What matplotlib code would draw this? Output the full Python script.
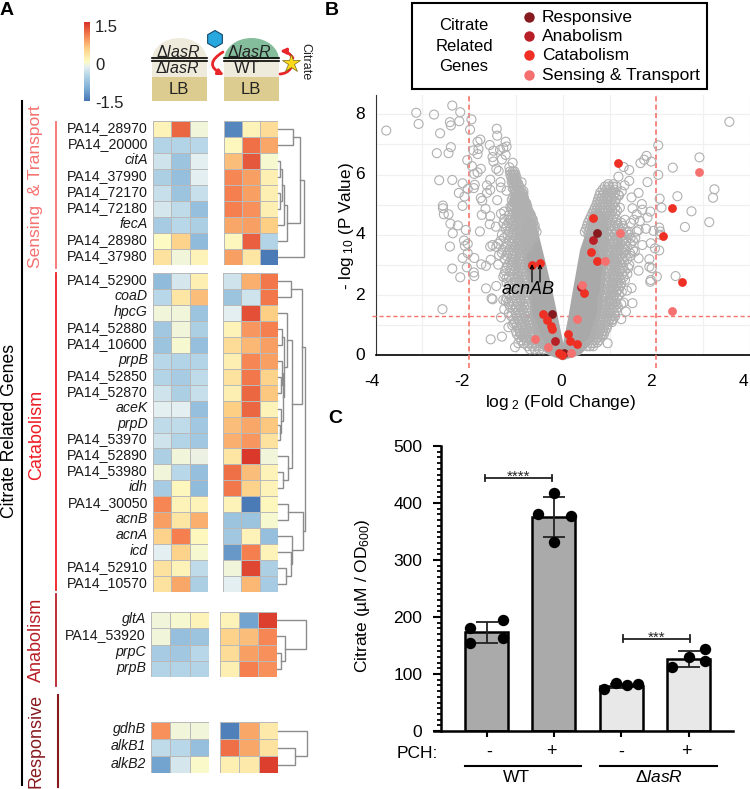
import numpy as np
import matplotlib
matplotlib.use('Agg')
import matplotlib.pyplot as plt
from matplotlib.colors import LinearSegmentedColormap
from matplotlib.patches import Rectangle, Ellipse, RegularPolygon, FancyArrowPatch, Polygon
from matplotlib.cm import ScalarMappable
from matplotlib.colors import Normalize
from matplotlib.ticker import MultipleLocator

plt.rcParams['font.family'] = ['Liberation Sans', 'DejaVu Sans']
plt.rcParams['mathtext.fontset'] = 'custom'
plt.rcParams['mathtext.rm'] = 'Liberation Sans'
plt.rcParams['mathtext.it'] = 'Liberation Sans:italic'
plt.rcParams['mathtext.default'] = 'regular'

W, H = 750, 789

# ---- heatmap data: rows of (dlasR x3, WT x3)
sensing_genes = ['PA14_28970', 'PA14_20000', 'citA', 'PA14_37990', 'PA14_72170', 'PA14_72180', 'fecA', 'PA14_28980', 'PA14_37980']
sensing_vals = [
    [0.1, 1.15, -0.1, -1.35, 0.1, 0.35],
    [-0.55, -0.55, -0.5, 0.05, 1.1, 0.75],
    [-0.35, -0.75, -0.2, 0.6, 1.25, -0.05],
    [-0.6, -0.8, -0.2, 0.95, 0.8, 0.15],
    [-0.4, -0.75, -0.4, 1.0, 0.8, 0.15],
    [-0.3, -0.45, -0.8, 1.0, 0.9, 0.15],
    [-0.65, -0.5, -0.6, 0.75, 0.8, 0.5],
    [0.0, 0.45, -0.85, 0.05, 1.2, -0.55],
    [0.3, -0.1, 0.1, 0.8, 0.25, -1.45],
]
catabolism_genes = ['PA14_52900', 'coaD', 'hpcG', 'PA14_52880', 'PA14_10600', 'prpB', 'PA14_52850', 'PA14_52870', 'aceK', 'prpD',
                    'PA14_53970', 'PA14_52890', 'PA14_53980', 'idh', 'PA14_30050', 'acnB', 'acnA', 'icd', 'PA14_52910', 'PA14_10570']
catabolism_vals = [
    [-0.85, -0.3, 0.15, -0.35, 0.7, 1.05],
    [-0.5, 0.25, 0.6, -0.75, -0.35, 1.05],
    [-0.1, -0.1, -0.75, -0.2, 1.3, 0.5],
    [-0.7, -0.1, -0.6, 0.1, 0.85, 1.0],
    [-0.75, -0.05, -0.8, 0.35, 0.65, 0.8],
    [-0.5, -0.55, -0.55, 0.15, 0.95, 0.8],
    [-0.55, -0.65, -0.45, 0.3, 1.05, 0.45],
    [-0.35, -0.6, -0.4, 0.15, 1.15, 0.55],
    [-0.2, -0.2, -0.8, 0.5, 1.15, 0.1],
    [-0.45, -0.45, -0.7, 0.6, 0.75, 0.55],
    [-0.35, -0.55, -0.7, 0.7, 0.85, 0.3],
    [-0.6, -0.1, -0.15, 0.25, 1.45, -0.1],
    [-0.1, -0.5, -0.8, 1.1, 0.6, 0.1],
    [-0.65, 0.05, -0.85, 1.05, 0.45, 0.1],
    [0.95, 0.1, 0.1, 0.1, -1.45, 0.05],
    [0.8, 0.25, 0.7, -0.75, -0.75, -0.05],
    [0.45, 1.0, 0.05, -0.7, 0.1, -0.8],
    [-0.2, 0.45, -0.05, -1.2, 1.0, 0.1],
    [0.3, 0.1, -0.45, -0.1, 1.35, -0.6],
    [0.3, 0.75, -0.6, -0.2, 0.65, -0.65],
]
anabolism_genes = ['gltA', 'PA14_53920', 'prpC', 'prpB']
anabolism_vals = [
    [-0.1, -0.05, 0.1, 0.1, -1.1, 1.4],
    [-0.1, -0.8, -0.75, 0.45, 0.6, 0.95],
    [-0.65, -0.7, -0.5, 0.35, 0.8, 0.9],
    [-0.55, -0.55, -0.55, 0.15, 1.0, 0.9],
]
responsive_genes = ['gdhB', 'alkB1', 'alkB2']
responsive_vals = [
    [0.9, -0.1, -0.1, -1.4, 0.75, 0.2],
    [-0.45, -0.5, -0.8, 1.1, 0.75, 0.3],
    [-1.1, -0.3, -0.03, 0.15, 0.2, 1.4],
]

# dendrograms: (height, child, child), leaves are row numbers
sensing_tree = (26, (22, (15, 0, 1), (9, (5.5, (4, (2, 2, 3), (1.5, 4, 5)), 6), 7)), 8)
catabolism_tree = (27, (24, (13, 0, 1), (14, (9, 2, (6, (4, 3, 4), (5, (3.5, 5, (2.5, 6, 7)), (3, 8, (1.5, 9, 10))))), (10, 11, (5, 12, 13)))),
                   (25, (10, 14, 15), (14, 16, (13, 17, (7.5, 18, 19)))))
anabolism_tree = (29, 0, (8, 1, (4, 2, 3)))
responsive_tree = (29, 0, (17, 1, 2))

# ---- volcano data, log2 fold change / -log10 p
sparse_left = [(-3.77, 7.46), (-3.13, 8.05), (-3.08, 7.68), (-2.75, 7.99), (-2.36, 8.29), (-2.19, 8.07), (-2.41, 7.74), (-2.39, 7.63),
               (-2.21, 7.77), (-1.95, 7.83), (-1.98, 7.49), (-2.62, 7.37), (-2.39, 6.91), (-2.69, 6.71), (-2.44, 6.71), (-2.04, 6.48),
               (-1.41, 7.52), (-1.40, 7.29), (-1.22, 7.09), (-1.20, 6.93), (-1.76, 7.16), (-1.82, 7.09), (-1.56, 6.98), (-1.80, 6.85),
               (-1.91, 6.80), (-1.82, 6.68), (-1.48, 6.79), (-1.34, 6.82), (-1.27, 6.88), (-1.22, 6.65), (-1.50, 6.58), (-1.30, 6.50),
               (-1.48, 6.43), (-1.94, 6.28), (-1.75, 6.19), (-1.82, 6.07), (-1.89, 6.02), (-1.07, 6.39), (-1.42, 6.19), (-1.37, 6.12),
               (-1.14, 6.24), (-2.64, 5.81), (-2.36, 5.82), (-2.14, 5.71), (-1.55, 5.83), (-1.88, 5.66), (-1.90, 5.55), (-2.03, 5.52),
               (-2.22, 5.39), (-2.10, 5.27), (-1.62, 5.64), (-1.55, 5.49), (-1.62, 5.39), (-1.33, 5.75), (-1.32, 5.57), (-1.20, 5.46),
               (-0.88, 5.74), (-1.03, 5.49), (-0.84, 5.35), (-1.75, 5.22), (-1.72, 5.13), (-1.40, 5.15), (-2.14, 4.96), (-2.56, 4.97),
               (-2.56, 4.88), (-2.54, 4.68), (-2.44, 4.68), (-2.40, 4.37), (-2.24, 4.31), (-2.35, 4.05), (-2.07, 4.16), (-1.77, 4.11),
               (-1.65, 4.86), (-1.73, 4.66), (-1.55, 4.62), (-1.56, 4.35), (-1.43, 4.27), (-1.25, 4.77), (-1.32, 4.70), (-1.12, 4.92),
               (-1.25, 4.53), (-1.27, 4.38), (-1.12, 4.49), (-1.09, 5.16), (-2.41, 3.61), (-2.11, 3.81), (-2.09, 3.63), (-2.03, 3.70),
               (-2.14, 3.23), (-2.03, 3.39), (-1.89, 3.23), (-2.36, 2.88), (-2.05, 2.92), (-1.90, 2.75), (-1.89, 2.63), (-2.19, 2.59),
               (-1.74, 3.02), (-1.64, 2.97), (-1.54, 3.17), (-1.38, 3.01), (-1.55, 3.61), (-1.50, 3.66), (-1.36, 3.33), (-1.64, 2.22),
               (-1.42, 2.30), (-1.52, 1.89), (-1.50, 1.86), (-1.27, 1.84), (-1.16, 1.78), (-2.57, 1.53), (-1.25, 1.53), (-1.32, 1.26),
               (-1.54, 0.53), (-1.30, 0.62), (-1.02, 0.27), (-0.83, 0.40), (-1.16, 0.93), (-1.05, 1.06), (-0.91, 0.73), (-1.27, 2.61),
               (-1.20, 2.56), (-1.25, 2.69)]
left_band_rows = {
    6.1: [-1.13, -1.07, -1.03], 6.0: [-1.12, -1.08, -1.04, -1.01], 5.9: [-1.10, -1.06, -1.03, -0.99], 5.8: [-1.07, -1.03, -1.0],
    5.75: [-1.09, -0.98], 5.7: [-1.05, -1.0, -0.95], 5.6: [-1.04, -0.99, -0.94], 5.55: [-1.07, -0.96, -0.9], 5.45: [-1.03, -0.93, -0.84],
    5.4: [-1.0, -0.96, -0.91, -0.87], 5.3: [-1.01, -0.95, -0.91, -0.86], 5.25: [-1.06, -0.99, -0.89, -0.84],
    5.2: [-1.02, -0.97, -0.92, -0.88, -0.83], 5.15: [-1.0, -0.95, -0.9, -0.82], 5.1: [-1.05, -0.99, -0.94, -0.89, -0.85, -0.81],
    5.05: [-1.03, -0.93, -0.89, -0.84, -0.78], 5.0: [-1.08, -1.0, -0.96, -0.92, -0.87, -0.83, -0.79],
    4.95: [-1.06, -0.95, -0.9, -0.82, -0.76], 4.9: [-1.03, -0.98, -0.93, -0.89, -0.85, -0.8, -0.77],
    4.85: [-1.1, -0.97, -0.91, -0.87, -0.8, -0.75], 4.8: [-1.0, -0.95, -0.91, -0.86, -0.82, -0.78, -0.74],
    4.75: [-0.99, -0.93, -0.88, -0.83, -0.77, -0.72], 4.7: [-1.05, -0.98, -0.92, -0.86, -0.8, -0.75, -0.7],
    4.65: [-1.15, -1.01, -0.94, -0.89, -0.83, -0.78, -0.72, -0.68], 4.55: [-1.0, -0.92, -0.87, -0.81, -0.76, -0.7, -0.66],
    4.5: [-1.12, -1.02, -0.95, -0.9, -0.84, -0.78, -0.73, -0.68, -0.64], 4.4: [-1.16, -1.04, -0.97, -0.91, -0.85, -0.79, -0.74, -0.69, -0.63],
    4.3: [-1.2, -1.08, -0.99, -0.93, -0.87, -0.81, -0.76, -0.7, -0.65, -0.6], 4.2: [-1.22, -1.11, -1.01, -0.95, -0.88, -0.82, -0.77, -0.71, -0.66, -0.6],
    4.1: [-1.15, -1.05, -0.97, -0.9, -0.84, -0.78, -0.72, -0.67, -0.62, -0.56], 4.0: [-1.3, -1.18, -1.06, -0.98, -0.92, -0.85, -0.79, -0.73, -0.68, -0.62],
    3.9: [-1.25, -1.1, -1.0, -0.93, -0.87, -0.8, -0.75, -0.69, -0.63], 3.8: [-1.33, -1.14, -1.03, -0.95, -0.89, -0.83, -0.77, -0.71],
    3.7: [-1.38, -1.2, -1.08, -0.98, -0.92, -0.86, -0.8, -0.75], 3.6: [-1.42, -1.22, -1.1, -1.0, -0.94, -0.88, -0.82, -0.76],
    3.5: [-1.28, -1.14, -1.04, -0.96, -0.9, -0.84], 3.4: [-1.3, -1.17, -1.05, -0.98, -0.91, -0.86],
    3.3: [-1.2, -1.08, -1.0, -0.93, -0.87], 3.2: [-1.24, -1.1, -1.01, -0.95, -0.89], 3.1: [-1.13, -1.04, -0.97, -0.9, -0.86],
    3.0: [-1.17, -1.07, -0.99, -0.92, -0.86], 2.9: [-1.2, -1.1, -1.0, -0.93, -0.87], 2.8: [-1.23, -1.12, -1.02, -0.95, -0.89],
    2.7: [-1.05, -0.97, -0.9, -0.84], 2.6: [-1.15, -1.03, -0.95, -0.88, -0.8], 2.5: [-1.1, -1.0, -0.93, -0.85, -0.78],
    2.4: [-1.2, -1.07, -0.98, -0.91, -0.83, -0.77], 2.3: [-1.15, -1.03, -0.95, -0.87, -0.8], 2.2: [-1.1, -1.0, -0.92, -0.85, -0.78],
    2.1: [-1.08, -0.98, -0.9, -0.83, -0.76], 2.0: [-1.14, -1.04, -0.95, -0.87, -0.79], 1.9: [-1.2, -1.1, -1.0, -0.9, -0.82, -0.76],
    1.8: [-1.22, -1.08, -0.98, -0.88, -0.8], 1.7: [-1.15, -1.05, -0.95, -0.85, -0.78], 1.6: [-1.12, -1.0, -0.9, -0.82, -0.75],
    1.5: [-1.03, -0.93, -0.85, -0.77], 1.4: [-1.15, -1.0, -0.91, -0.83, -0.76], 1.3: [-1.1, -0.98, -0.88, -0.8, -0.74],
    1.2: [-1.05, -0.95, -0.86, -0.78, -0.72], 1.1: [-1.02, -0.92, -0.83, -0.75, -0.68], 1.0: [-1.08, -0.98, -0.88, -0.8, -0.72, -0.66],
    0.9: [-0.95, -0.86, -0.78, -0.7, -0.63], 0.8: [-1.0, -0.92, -0.83, -0.75, -0.67, -0.61], 0.7: [-0.98, -0.88, -0.8, -0.72, -0.65, -0.58],
    0.6: [-0.93, -0.84, -0.76, -0.68, -0.6], 0.5: [-0.88, -0.78, -0.7, -0.62, -0.55], 0.4: [-0.95, -0.83, -0.73, -0.65, -0.57, -0.5],
    0.3: [-0.75, -0.65, -0.55, -0.48], 0.2: [-0.7, -0.6, -0.5, -0.42],
}
sparse_right = [(3.56, 7.75), (2.04, 6.97), (2.92, 6.57), (1.79, 6.62), (1.74, 6.49), (1.66, 6.38), (1.89, 6.43), (1.30, 6.25),
                (1.42, 6.15), (2.35, 6.23), (2.04, 5.99), (1.19, 5.93), (1.42, 5.79), (1.81, 5.75), (0.97, 5.68), (1.08, 5.68),
                (1.32, 5.64), (3.24, 5.51), (3.21, 5.23), (2.45, 5.28), (2.07, 5.20), (1.62, 5.39), (2.11, 4.90), (2.75, 4.78),
                (3.13, 4.42), (2.61, 4.26), (1.87, 4.77), (1.69, 5.02), (1.49, 4.88), (1.47, 5.24), (1.26, 5.44), (1.19, 5.33),
                (1.70, 4.83), (1.81, 4.57), (1.58, 4.68), (1.52, 4.5), (1.65, 4.46), (1.33, 4.5), (1.45, 4.39), (2.06, 4.24),
                (1.62, 4.16), (1.78, 4.2), (1.94, 4.13), (2.08, 4.11), (1.40, 4.11), (1.22, 4.9), (2.41, 2.63), (2.06, 3.48),
                (1.88, 3.72), (1.70, 3.66), (1.85, 3.19), (1.85, 2.94), (1.90, 2.89), (2.01, 2.61), (1.88, 2.50), (1.87, 2.44),
                (1.62, 2.81), (1.47, 2.23), (1.37, 2.15), (1.49, 1.73), (1.30, 1.75), (1.35, 1.45), (1.25, 1.2), (1.05, 1.17),
                (0.96, 0.4), (0.74, 0.43), (0.85, 0.67), (2.08, 4.0), (1.58, 4.11), (1.62, 3.22), (1.42, 3.0), (1.15, 2.15),
                (1.44, 3.39), (1.30, 3.83), (1.54, 3.44), (1.97, 3.55)]
right_band_rows = {
    5.6: [0.90, 0.98, 1.08, 1.15], 5.5: [0.85, 0.93, 1.02, 1.1], 5.4: [0.8, 0.88, 0.96, 1.05, 1.12], 5.3: [0.78, 0.85, 0.93, 1.01, 1.09, 1.2],
    5.2: [0.76, 0.83, 0.9, 0.97, 1.05, 1.14], 5.1: [0.74, 0.8, 0.87, 0.95, 1.02, 1.12], 5.0: [0.72, 0.78, 0.85, 0.92, 1.0, 1.08],
    4.9: [0.69, 0.75, 0.81, 0.88, 0.95, 1.03, 1.12], 4.8: [0.66, 0.72, 0.78, 0.84, 0.9, 0.97, 1.06, 1.16],
    4.7: [0.63, 0.69, 0.75, 0.81, 0.87, 0.94, 1.02, 1.12], 4.6: [0.6, 0.66, 0.72, 0.78, 0.84, 0.9, 0.98, 1.08],
    4.5: [0.57, 0.64, 0.7, 0.76, 0.82, 0.88, 0.96, 1.05, 1.15], 4.4: [0.54, 0.62, 0.68, 0.74, 0.8, 0.86, 0.94, 1.02, 1.14, 1.25],
    4.3: [0.52, 0.6, 0.66, 0.72, 0.78, 0.84, 0.92, 1.0, 1.08, 1.18, 1.28], 4.2: [0.5, 0.58, 0.64, 0.7, 0.76, 0.82, 0.9, 0.98, 1.1, 1.2, 1.3],
    4.1: [0.47, 0.55, 0.62, 0.68, 0.74, 0.8, 0.86, 0.95, 1.05, 1.15, 1.25, 1.36], 4.0: [0.55, 0.65, 0.78, 0.9, 1.0, 1.1, 1.2, 1.3, 1.42],
    3.9: [0.85, 0.95, 1.05, 1.14, 1.22, 1.32, 1.45, 1.55], 3.8: [0.8, 0.9, 1.0, 1.1, 1.18, 1.27, 1.35, 1.5],
    3.7: [0.83, 0.9, 0.98, 1.07, 1.16, 1.24, 1.33, 1.45], 3.6: [0.85, 0.95, 1.03, 1.12, 1.2, 1.28, 1.38],
    3.5: [0.88, 0.98, 1.07, 1.16, 1.25, 1.34, 1.5], 3.4: [0.9, 0.98, 1.05, 1.13, 1.2, 1.3], 3.3: [0.92, 1.0, 1.08, 1.15, 1.23, 1.34, 1.45],
    3.2: [0.95, 1.03, 1.1, 1.18, 1.26, 1.38], 3.1: [0.97, 1.05, 1.13, 1.21, 1.31], 3.0: [0.95, 1.02, 1.1, 1.17, 1.26],
    2.9: [0.97, 1.04, 1.12, 1.2, 1.29, 1.4], 2.8: [0.95, 1.0, 1.07, 1.14, 1.22, 1.32], 2.7: [0.94, 1.03, 1.1, 1.17, 1.27, 1.38],
    2.6: [0.93, 1.0, 1.06, 1.13, 1.2, 1.3], 2.5: [0.93, 1.02, 1.09, 1.16, 1.23, 1.33], 2.4: [0.92, 0.98, 1.05, 1.12, 1.18, 1.25],
    2.3: [0.91, 1.0, 1.07, 1.15, 1.23], 2.2: [0.9, 0.97, 1.03, 1.1, 1.2], 2.1: [0.9, 0.98, 1.06, 1.15, 1.26], 2.0: [0.88, 0.95, 1.02, 1.1, 1.2],
    1.9: [0.86, 0.94, 1.02, 1.08, 1.16], 1.8: [0.85, 0.92, 0.98, 1.05, 1.12], 1.7: [0.86, 0.94, 1.0, 1.07, 1.15, 1.25],
    1.6: [0.85, 0.9, 0.97, 1.03, 1.1, 1.18], 1.5: [0.84, 0.92, 1.0, 1.06, 1.14], 1.4: [0.83, 0.9, 0.95, 1.02, 1.1],
    1.3: [0.82, 0.89, 0.96, 1.04, 1.12], 1.2: [0.8, 0.87, 0.93, 1.0, 1.08], 1.1: [0.78, 0.84, 0.9, 0.97, 1.05], 1.0: [0.76, 0.82, 0.88, 0.95],
    0.9: [0.74, 0.8, 0.87, 0.94], 0.8: [0.72, 0.78, 0.85, 0.9], 0.7: [0.7, 0.76, 0.82, 0.88], 0.6: [0.68, 0.74, 0.8],
    0.5: [0.64, 0.7, 0.78], 0.4: [0.6, 0.66], 0.3: [0.52, 0.58, 0.65],
}
# the solid part of the V, too dense to tell circles apart
dense_left = [(-0.92, 4.0), (-0.8, 4.7), (-0.62, 4.5), (-0.52, 4.05), (-0.38, 3.17), (-0.24, 2.28), (-0.09, 1.17), (0.05, 0.12), (0.0, -0.17),
              (-0.31, 0.01), (-0.59, 0.4), (-0.70, 1.39), (-0.73, 2.39), (-0.84, 3.05)]
dense_right = [(0.51, 4.16), (0.37, 3.5), (0.23, 2.28), (0.12, 1.28), (0.01, 0.4), (0.0, -0.17), (0.37, 0.01), (0.69, 0.51), (0.83, 1.4),
               (0.90, 2.28), (0.94, 3.06), (0.98, 3.9), (0.95, 4.6), (0.75, 4.9), (0.6, 4.7)]
anabolism_pts = [(0.65, 3.82), (-0.17, 0.48), (0.38, 2.26)]
responsive_pts = [(0.74, 4.05), (-0.23, 1.36), (0.03, 0.09)]
catabolism_pts = [(1.17, 6.37), (2.34, 4.89), (0.65, 4.57), (2.15, 3.96), (0.61, 3.42), (0.73, 3.13), (0.45, 2.06), (2.54, 2.42),
                  (-0.65, 3.01), (-0.49, 3.07), (-0.42, 1.37), (-0.33, 1.16), (-0.26, 0.96), (-0.22, 0.86), (0.11, 0.71), (0.16, 0.49),
                  (0.30, 0.38), (-0.09, 0.07), (-0.01, 0.02)]
sensing_pts = [(2.91, 6.1), (1.22, 4.07), (0.91, 3.14), (0.41, 2.35), (2.34, 1.47), (0.30, 1.2), (-0.59, 0.55), (-0.31, 0.29), (0.17, 0.08)]

# ---- bar data
bar_pos = [1, 2, 3, 4]
bar_vals = [173, 376, 79, 126]
bar_errs = [18, 35, 4, 14]
bar_cols = ['#aaaaaa', '#aaaaaa', '#e8e8e8', '#e8e8e8']
dots_x = [[0.75, 0.76, 1.25, 1.25], [2.0, 1.76, 2.25, 2.0], [2.75, 2.92, 3.08, 3.25], [3.76, 4.0, 4.25, 4.25]]
dots_y = [[180, 155, 195, 163], [418, 381, 378, 332], [74, 85, 81, 82], [112, 129, 144, 122]]

COL_SENS = '#f4716f'
COL_CAT = '#ee2f24'
COL_ANA = '#b81f27'
COL_RESP = '#871a1e'
heat_cmap = LinearSegmentedColormap.from_list('rdylbu', [(0, '#4575b4'), (0.1667, '#7fb0d6'), (0.3333, '#b8d7e8'), (0.4333, '#e4eff0'),
                                                         (0.5, '#fdfbc4'), (0.6667, '#fdcf85'), (0.8333, '#f5804f'), (1, '#d73027')])

fig = plt.figure(figsize=(W / 100, H / 100), dpi=100)


def px_axes(left, top, right, bottom, **kw):
    return fig.add_axes([left / W, 1 - bottom / H, (right - left) / W, (bottom - top) / H], **kw)


def draw_tree(ax, node):
    if not isinstance(node, tuple):
        return node + 0.5, 0
    h, a, b = node
    ya, ha = draw_tree(ax, a)
    yb, hb = draw_tree(ax, b)
    ax.plot([ha, h, h, hb], [ya, ya, yb, yb], color='#8c8c8c', lw=1, clip_on=False, solid_joinstyle='miter')
    return (ya + yb) / 2, h


def heat_block(vals, genes, tree, top, bottom, l1, r1, l2, r2, label_x):
    arr = np.array(vals)
    for part, left, right in ((arr[:, :3], l1, r1), (arr[:, 3:], l2, r2)):
        ax = px_axes(left, top, right, bottom)
        ax.pcolormesh(part, cmap=heat_cmap, vmin=-1.5, vmax=1.5, edgecolors='#b9b9b9', linewidth=0.5)
        ax.set_ylim(len(genes), 0)
        ax.axis('off')
    d = px_axes(r2, top, r2 + 30, bottom)
    d.set_xlim(0, 30)
    d.set_ylim(len(genes), 0)
    d.axis('off')
    draw_tree(d, tree)
    rh = (bottom - top) / len(genes)
    for i, g in enumerate(genes):
        ov.text(label_x, top + (i + 0.5) * rh - 1, g, ha='right', va='center', fontsize=10.2, color='#1a1a1a',
                style='normal' if g.startswith('PA14') else 'italic')


# overlay in pixel coordinates for labels and the little colony drawing
ov = fig.add_axes([0, 0, 1, 1], zorder=5)
ov.set_xlim(0, W)
ov.set_ylim(H, 0)
ov.axis('off')
ov.patch.set_alpha(0)

heat_block(sensing_vals, sensing_genes, sensing_tree, 121, 265, 153, 208, 224, 278, 148)
heat_block(catabolism_vals, catabolism_genes, catabolism_tree, 273, 592, 153, 208, 223, 278, 148)
heat_block(anabolism_vals, anabolism_genes, anabolism_tree, 612, 677, 151, 209, 220, 277, 146)
heat_block(responsive_vals, responsive_genes, responsive_tree, 722, 773, 151, 209, 220, 278, 146)

# colour bar
cax = px_axes(84, 22, 90, 101)
cb = fig.colorbar(ScalarMappable(Normalize(-1.5, 1.5), heat_cmap), cax=cax)
cb.outline.set_visible(False)
cb.set_ticks([])
for y, s in ((27, '1.5'), (65, '0'), (103, '-1.5')):
    ov.text(95, y, s, fontsize=12, va='center', ha='left', color='#222222')

# category bars
ov.plot([21.5, 21.5], [101, 785], color='black', lw=1.5)
ov.plot([56, 56], [122, 268], color=COL_SENS, lw=1.3)
ov.plot([56, 56], [273, 590], color='#ee1c25', lw=1.3)
ov.plot([56, 56], [594, 686], color=COL_ANA, lw=1.3)
ov.plot([58, 58], [695, 787], color=COL_RESP, lw=1.5)
ov.text(10, 431, 'Citrate Related Genes', rotation=90, fontsize=12.7, ha='center', va='center', color='black')
ov.text(36, 187, 'Sensing  & Transport', rotation=90, fontsize=12.5, ha='center', va='center', color=COL_SENS)
ov.text(37, 435, 'Catabolism', rotation=90, fontsize=13, ha='center', va='center', color='#ee1c25')
ov.text(36, 640, 'Anabolism', rotation=90, fontsize=13, ha='center', va='center', color=COL_ANA)
ov.text(36, 741, 'Responsive', rotation=90, fontsize=13, ha='center', va='center', color=COL_RESP)

for s, x, y in (('A', 7, 10), ('B', 332, 10), ('C', 335, 418)):
    ov.text(x, y, s, fontsize=14, fontweight='bold', ha='center', va='center', color='black')

# colony sketch
BEIGE, SAND, GREEN = '#eeeadc', '#dccc8f', '#84bd9b'
for left, dome in ((152, BEIGE), (224, GREEN)):
    ov.add_patch(Ellipse((left + 27.5, 60), 55, 44, color=dome, lw=0))
    ov.add_patch(Rectangle((left, 59), 55, 19, color=BEIGE, lw=0))
    ov.add_patch(Rectangle((left, 77), 55, 24, color=SAND, lw=0))
    ov.plot([left, left + 55], [57.5, 57.5], color='black', lw=1.2)
    ov.plot([left, left + 55], [61, 61], color='black', lw=1.2)
    ov.text(left + 27, 89.5, 'LB', fontsize=12, ha='center', va='center', color='#222222')
ov.text(178, 52, r'$\Delta\mathit{lasR}$', fontsize=11.5, ha='center', va='center', color='#222222')
ov.text(177, 67.5, r'$\Delta\mathit{lasR}$', fontsize=11.5, ha='center', va='center', color='#222222')
ov.text(249, 52, r'$\Delta\mathit{lasR}$', fontsize=11.5, ha='center', va='center', color='#222222')
ov.text(247, 68, 'WT', fontsize=12, ha='center', va='center', color='#222222')
ov.add_patch(RegularPolygon((215, 39), 6, radius=8.5, facecolor='#29a7df', edgecolor='#14496b', lw=0.8))
ov.add_patch(FancyArrowPatch((223, 52), (224, 75), connectionstyle='arc3,rad=0.9', arrowstyle='-|>', mutation_scale=8, color='#e8262a', lw=2,
                             shrinkA=0, shrinkB=0))
ov.add_patch(FancyArrowPatch((293, 58), (280, 51), connectionstyle='arc3,rad=0.25', arrowstyle='-|>', mutation_scale=8, color='#e8262a', lw=2,
                             shrinkA=0, shrinkB=0))
ov.add_patch(FancyArrowPatch((280, 74), (291, 68), connectionstyle='arc3,rad=0.25', arrowstyle='-', color='#e8262a', lw=2, shrinkA=0, shrinkB=0))
ov.plot([291], [63], marker='*', ms=13.5, color='#ffd91a', mec='#7a6a10', mew=0.5)
ov.text(305, 62, 'Citrate', rotation=-90, fontsize=9, ha='center', va='center', color='#222222')

# legend box of panel B
ov.add_patch(Rectangle((412, 3), 295, 86, facecolor='white', edgecolor='black', lw=1.5))
for y, s in ((25, 'Citrate'), (46, 'Related'), (66, 'Genes')):
    ov.text(464, y, s, fontsize=12, ha='center', va='center', color='black')
for y, s, c in ((17, 'Responsive', COL_RESP), (36, 'Anabolism', COL_ANA), (55, 'Catabolism', COL_CAT), (75, 'Sensing & Transport', COL_SENS)):
    ov.plot([529], [y], 'o', ms=7.5, color=c, mew=0)
    ov.text(542, y, s, fontsize=12.5, ha='left', va='center', color='black')

# ---- volcano
vx = px_axes(375.5, 95, 750, 355.3, zorder=2)
vx.set_xlim(-4, 4)
vx.set_ylim(0, 8.64)
vx.patch.set_alpha(0)
vx.set_xticks(range(-4, 5))
vx.set_yticks(range(0, 9))
vx.grid(True, color='#f0f0f0', lw=0.9)
vx.set_axisbelow(True)
vx.tick_params(length=0, labelbottom=False, labelleft=False)
for s in ('top', 'right'):
    vx.spines[s].set_visible(False)
vx.spines['left'].set_color('#333333')
vx.spines['bottom'].set_linewidth(1.2)
vx.spines['left'].set_zorder(1)
vx.spines['bottom'].set_zorder(1)

DASH = '#f8736b'
vx.plot([-2, -2], [-0.42, 8.64], color=DASH, lw=1.2, ls=(0, (3, 2)), clip_on=False, zorder=1.5)
vx.plot([2, 2], [-0.42, 8.64], color=DASH, lw=1.2, ls=(0, (3, 2)), clip_on=False, zorder=1.5)
vx.plot([-4.07, 4], [1.3, 1.3], color=DASH, lw=1.0, ls=(0, (3, 2)), clip_on=False, zorder=1.5)

vx.add_patch(Polygon(dense_left, closed=True, facecolor='#a9a9a9', edgecolor='none', zorder=2, clip_on=False))
vx.add_patch(Polygon(dense_right, closed=True, facecolor='#a9a9a9', edgecolor='none', zorder=2, clip_on=False))
grey_pts = list(sparse_left) + list(sparse_right)
for rows in (left_band_rows, right_band_rows):
    for p, fcs in rows.items():
        grey_pts += [(f, p) for f in fcs]
grey_pts = np.array(grey_pts)
vx.scatter(grey_pts[:, 0], grey_pts[:, 1], s=42, facecolor='none', edgecolor='#b0b0b0', lw=0.8, zorder=2.2, clip_on=False)
for pts, c in ((anabolism_pts, COL_ANA), (responsive_pts, COL_RESP), (catabolism_pts, COL_CAT), (sensing_pts, COL_SENS)):
    a = np.array(pts)
    vx.scatter(a[:, 0], a[:, 1], s=40, color=c, lw=0, zorder=4, clip_on=False)

for v, x in ((-4, 372), (-2, 462), (0, 561), (2, 651), (4, 743)):
    ov.text(x, 381, str(v), fontsize=12.5, ha='center', va='center', color='black')
for v in (0, 2, 4, 6, 8):
    ov.text(360, 355.3 - v * 30.1, str(v), fontsize=12.5, ha='center', va='center', color='black')
ov.text(560, 402, r'log$_{\ 2}$ (Fold Change)', fontsize=12.5, ha='center', va='center', color='black')
ov.text(347, 226, r'- log$_{\ 10}$ (P Value)', fontsize=12.3, rotation=90, ha='center', va='center', color='black')
ov.text(528, 289, 'acnAB', fontsize=13, style='italic', ha='center', va='center', color='black')
for x in (532, 540):
    ov.add_patch(FancyArrowPatch((x, 282), (x, 264), arrowstyle='->', mutation_scale=6, color='black', lw=0.9, shrinkA=0, shrinkB=0))

# ---- bars
bx = px_axes(441, 446, 733, 731, zorder=3)
bx.patch.set_alpha(0)
bx.set_xlim(0.324, 4.66)
bx.set_ylim(0, 500)
bx.bar(bar_pos, bar_vals, width=0.64, color=bar_cols, edgecolor='black', lw=1.8, zorder=2)
bx.errorbar(bar_pos, bar_vals, yerr=bar_errs, fmt='none', ecolor='#222222', elinewidth=1.3, capsize=8, capthick=1.3, zorder=3)
for xs, ys in zip(dots_x, dots_y):
    bx.plot(xs, ys, 'o', ms=8.2, color='black', mew=0, zorder=4, clip_on=False)
for s in ('top', 'right'):
    bx.spines[s].set_visible(False)
bx.spines['left'].set_linewidth(1.8)
bx.spines['bottom'].set_linewidth(1.8)
bx.spines['bottom'].set_bounds(0.22, 4.66)
bx.yaxis.set_major_locator(MultipleLocator(100))
bx.yaxis.set_minor_locator(MultipleLocator(10))
bx.tick_params(axis='y', which='major', length=5.5, width=1.5, labelsize=12.5, pad=8)
bx.tick_params(axis='y', which='minor', length=3, width=1.3)
bx.set_xticks(bar_pos)
bx.tick_params(axis='x', length=4.5, width=1.5, labelbottom=False)

for x0, x1, y, star in ((0.98, 1.97, 444, '****'), (3.03, 4.02, 162, '***')):
    bx.plot([x0, x1], [y, y], color='#222222', lw=1.3)
    bx.plot([x0, x0], [y - 6, y + 6], color='#222222', lw=1.3)
    bx.plot([x1, x1], [y - 6, y + 6], color='#222222', lw=1.3)
    bx.text((x0 + x1) / 2, y + 2, star, ha='center', va='center', fontsize=11, color='#222222')

ov.text(362, 596, r'Citrate (µM / OD$_{600}$)', rotation=90, fontsize=12.5, ha='center', va='center', color='black')
ov.text(438, 753, 'PCH:', fontsize=12.5, ha='right', va='center', color='black')
for x, s in ((489, '-'), (551, '+'), (621, '-'), (686, '+')):
    ov.text(x, 752, s, fontsize=13, ha='center', va='center', color='black')
ov.plot([465, 581], [766, 766], color='black', lw=1.5)
ov.plot([600, 717], [766, 766], color='black', lw=1.5)
ov.text(516, 777, 'WT', fontsize=12.5, ha='center', va='center', color='black')
ov.text(659, 777, r'$\Delta\mathit{lasR}$', fontsize=12.5, ha='center', va='center', color='black')

fig.savefig('out.png', dpi=100)
